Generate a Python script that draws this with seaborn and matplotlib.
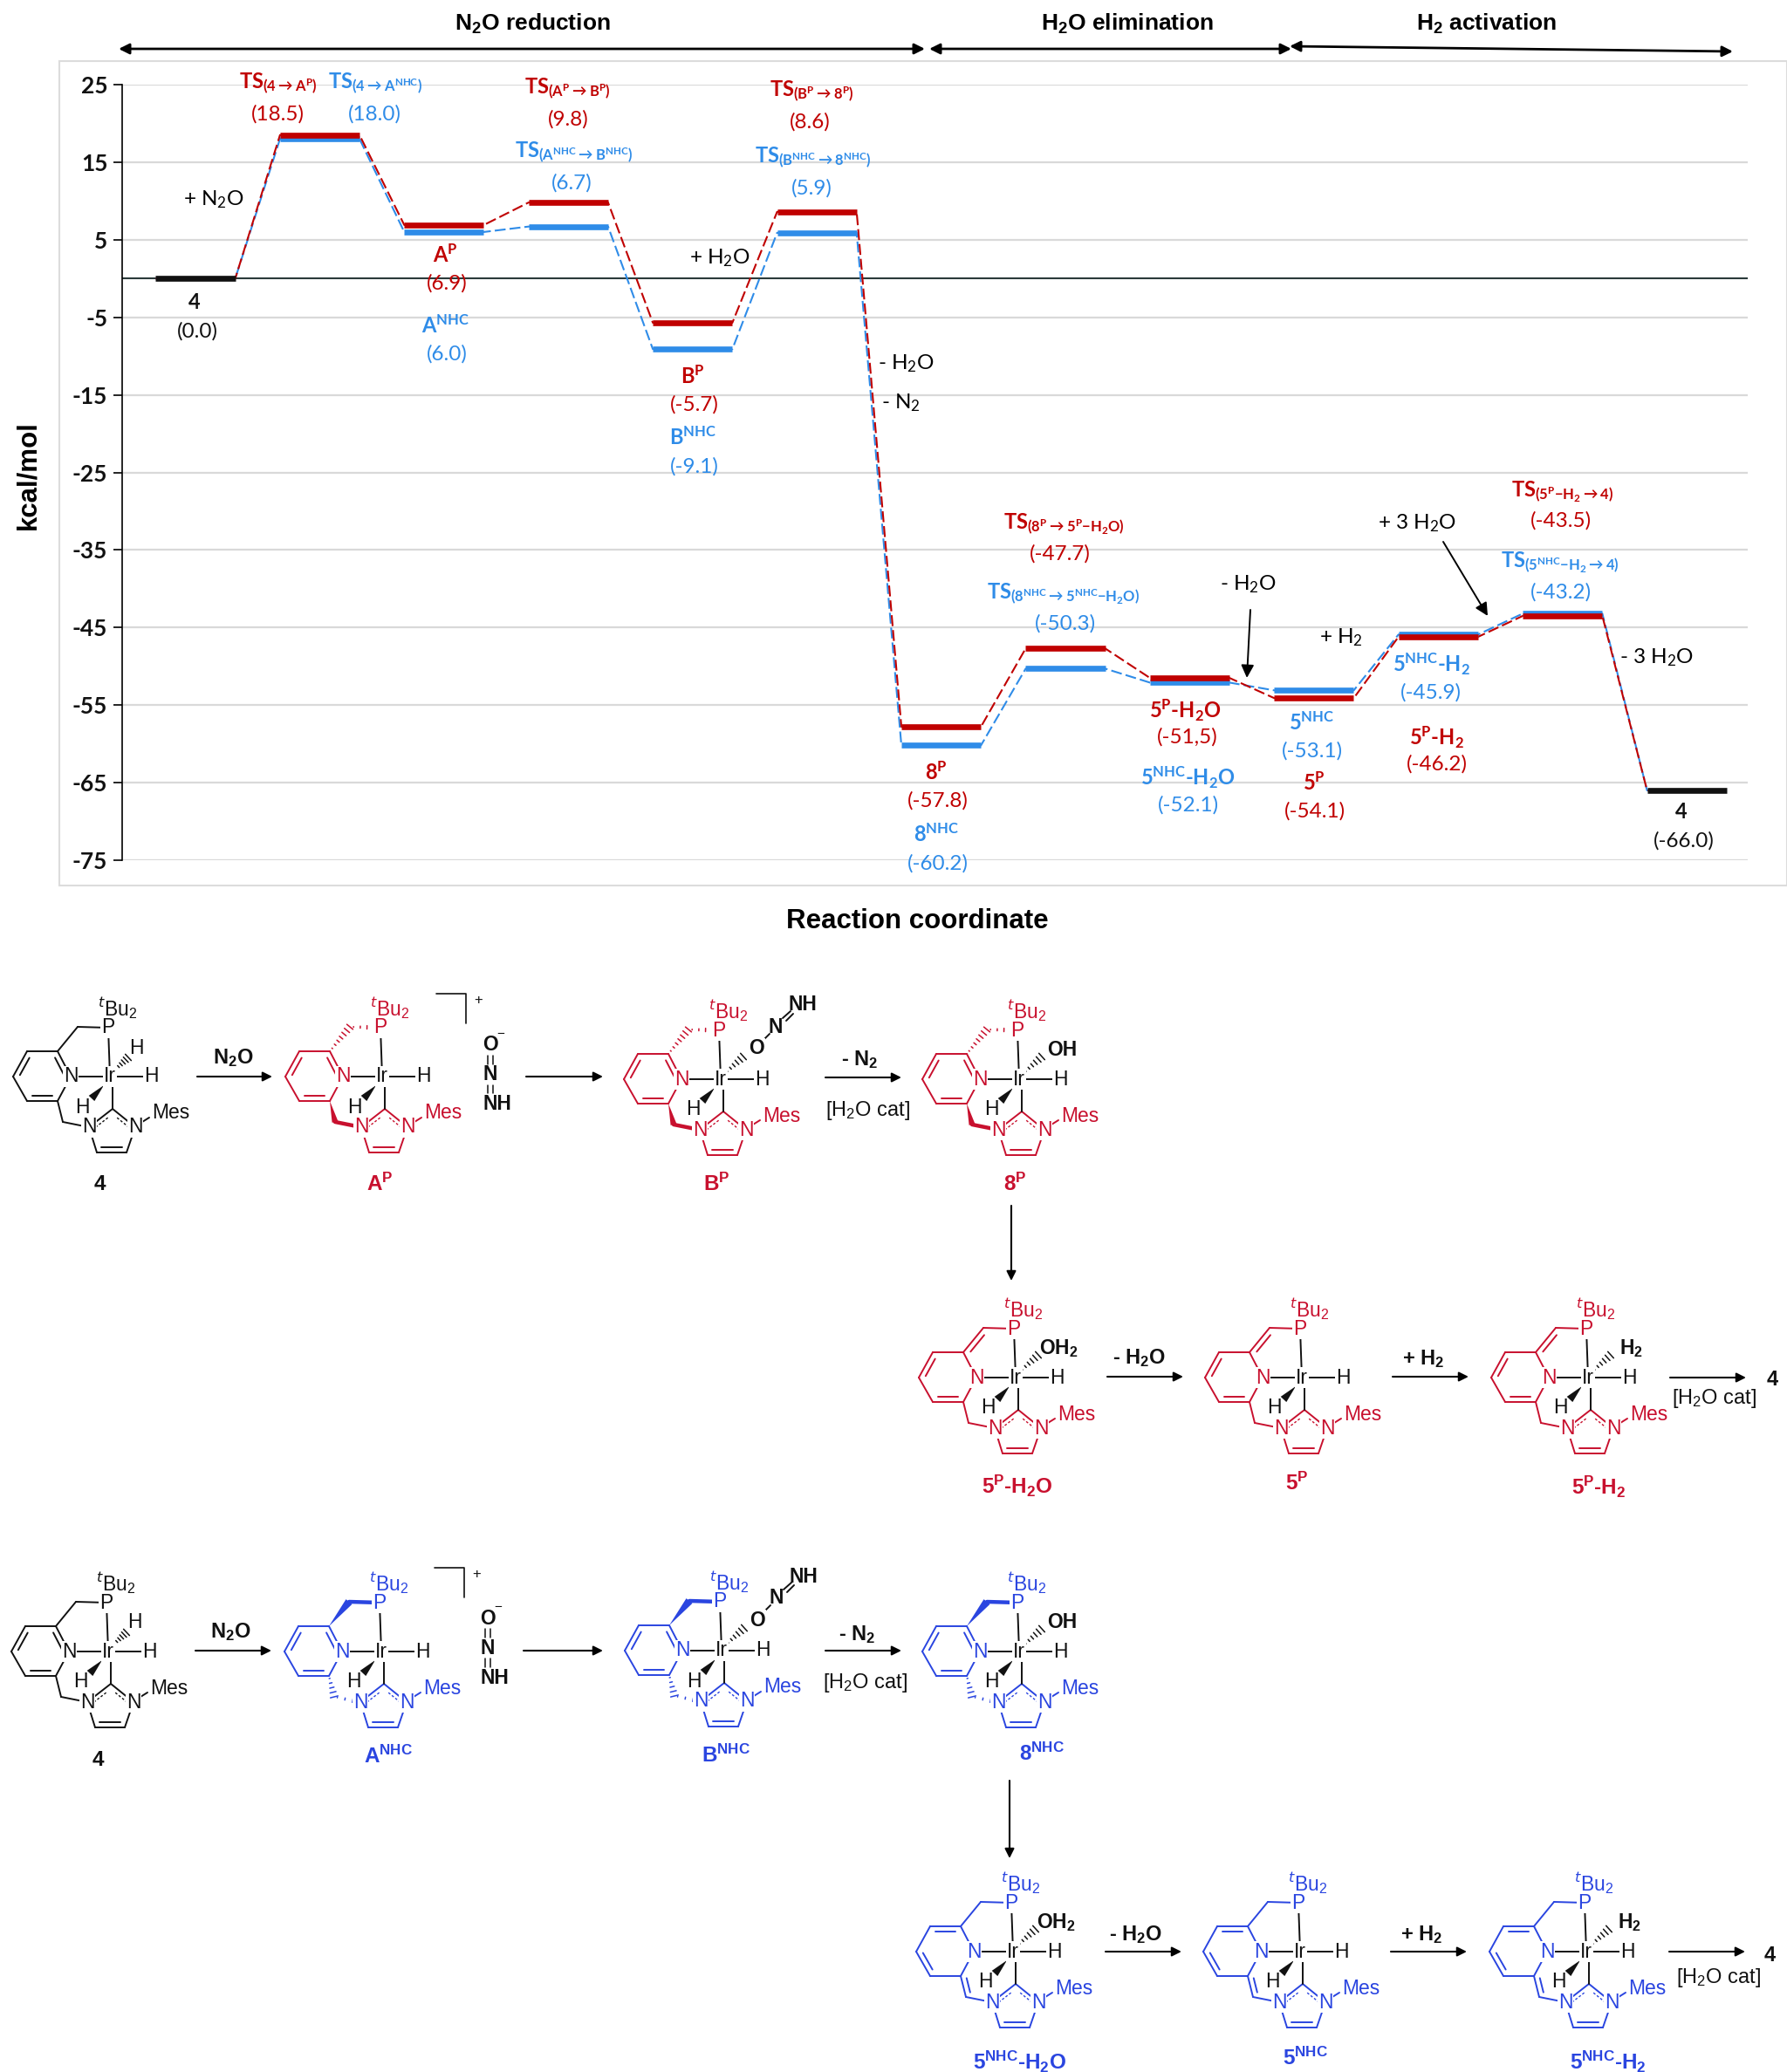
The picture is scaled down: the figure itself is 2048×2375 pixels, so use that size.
import numpy as np
import pandas as pd
import matplotlib
matplotlib.use("Agg")
import matplotlib.pyplot as plt
from matplotlib.patches import Polygon, Rectangle
import seaborn as sns

# ---------------- data ----------------
p_values = [0.0, 18.5, 6.9, 9.8, -5.7, 8.6, -57.8, -47.7, -51.5, -54.1, -46.2, -43.5, -66.0]
nhc_values = [0.0, 18.0, 6.0, 6.7, -9.1, 5.9, -60.2, -50.3, -52.1, -53.1, -45.9, -43.2, -66.0]
y_ticks = [25, 15, 5, -5, -15, -25, -35, -45, -55, -65, -75]

RED = "#c00000"
RED2 = "#c8102e"
BLUE = "#2f8ce8"
BLUE2 = "#2a45e0"
BLACK = "#111111"
W, H = 2048, 2375

sns.set_theme(style="ticks")
plt.rcParams["font.family"] = ["Lato", "DejaVu Sans"]
plt.rcParams["mathtext.default"] = "regular"
plt.rcParams["mathtext.fontset"] = "dejavusans"

fig = plt.figure(figsize=(W / 100, H / 100), dpi=100, facecolor="white")
ax = fig.add_axes([140 / W, 1 - 986 / H, (2003 - 140) / W, (986 - 97) / H], facecolor="none")
ov = fig.add_axes([0, 0, 1, 1], facecolor="none")
ov.set_xlim(0, W)
ov.set_ylim(H, 0)
ov.axis("off")

# ---------------- energy profile ----------------
half = 0.32
path_rows, level_rows = [], []
for name, vals in (("NHC", nhc_values), ("P", p_values)):
    for i, v in enumerate(vals):
        for dx in (-half, half):
            path_rows.append((name, i, i + dx, v))
            if 0 < i < len(vals) - 1:
                level_rows.append((name, i, i + dx, v))
for i in (0, len(p_values) - 1):
    for dx in (-half, half):
        level_rows.append(("both", i, i + dx, p_values[i]))
path_df = pd.DataFrame(path_rows, columns=["series", "state", "x", "y"])
level_df = pd.DataFrame(level_rows, columns=["series", "state", "x", "y"])
pal = {"NHC": BLUE, "P": RED, "both": BLACK}

ax.set_xlim(-0.59, 12.49)
ax.set_ylim(-75, 25)
ax.set_yticks(y_ticks)
ax.set_xticks([])
ax.yaxis.grid(True, color="#d9d9d9", lw=1.6)
ax.set_axisbelow(True)
ax.axhline(0, color="#2b3a3a", lw=1.5, zorder=1.5)
for name, offset in (("NHC", 4.0), ("P", 0.0)):
    sns.lineplot(data=path_df[path_df["series"] == name], x="x", y="y", color=pal[name],
                 estimator=None, sort=False, lw=1.5, linestyle=(offset, (6, 2.2)),
                 legend=False, ax=ax, zorder=2)
sns.lineplot(data=level_df, x="x", y="y", hue="series", hue_order=["NHC", "P", "both"], palette=pal,
             units="state", estimator=None, sort=False, lw=4.8, solid_capstyle="butt",
             legend=False, ax=ax, zorder=3)
ax.set_xlabel("")
ax.set_ylabel("")
for s in ("top", "right", "bottom"):
    ax.spines[s].set_visible(False)
ax.spines["left"].set_color("black")
ax.spines["left"].set_linewidth(1.2)
ax.tick_params(axis="y", length=7, width=1.2, color="black", pad=5)
ax.set_yticklabels([str(v) for v in y_ticks], fontsize=19, fontweight="bold", color="#111111")

ov.add_patch(Rectangle((68, 70), W - 68, 945, fc="none", ec="#dcdcdc", lw=1.5))


def T(x, y, s, color="black", size=17.5, weight="normal", family=None, **kw):
    ov.text(x, y, s, color=color, fontsize=size, fontweight=weight, ha=kw.pop("ha", "center"),
            va=kw.pop("va", "center"), family=family or ["Lato", "DejaVu Sans"], **kw)


def arrow(x0, y0, x1, y1, style="-|>", lw=1.5, ms=16, color="black"):
    ov.annotate("", xy=(x1, y1), xytext=(x0, y0),
                arrowprops=dict(arrowstyle=style, lw=lw, color=color, mutation_scale=ms,
                                shrinkA=0, shrinkB=0))


ARIAL = ["Liberation Sans", "DejaVu Sans"]
T(610, 27, "N$_2$O reduction", size=19, weight="bold", family=ARIAL)
T(1292, 27, "H$_2$O elimination", size=19, weight="bold", family=ARIAL)
T(1704, 27, "H$_2$ activation", size=19, weight="bold", family=ARIAL)
arrow(136, 56, 1060, 56, "<|-|>", lw=2, ms=18)
arrow(1065, 56, 1480, 56, "<|-|>", lw=2, ms=18)
arrow(1478, 53, 1986, 59, "<|-|>", lw=2, ms=18)
T(32, 545, "kcal/mol", size=22.5, weight="bold", rotation=90, family=ARIAL)
T(1051, 1056, "Reaction coordinate", size=22.5, weight="bold", family=ARIAL)


def fmt(v):
    return f"({v:.1f})"


def pair(xn, yn, name, xv, yv, val, color, weight="bold", size=17):
    T(xn, yn, name, color=color, weight=weight, size=size)
    T(xv, yv, val, color=color)


A = r"\rightarrow "
D = "{-}"
pair(319, 96, rf"TS$_{{(4{A}A^{{P}})}}$", 318, 131, fmt(p_values[1]), RED)
pair(430, 96, rf"TS$_{{(4{A}A^{{NHC}})}}$", 429, 131, fmt(nhc_values[1]), BLUE)
pair(650, 102, rf"TS$_{{(A^{{P}}{A}B^{{P}})}}$", 651, 137, fmt(p_values[3]), RED)
pair(658, 175, rf"TS$_{{(A^{{NHC}}{A}B^{{NHC}})}}$", 655, 210, fmt(nhc_values[3]), BLUE)
pair(930, 105, rf"TS$_{{(B^{{P}}{A}8^{{P}})}}$", 928, 140, fmt(p_values[5]), RED)
pair(932, 181, rf"TS$_{{(B^{{NHC}}{A}8^{{NHC}})}}$", 930, 216, fmt(nhc_values[5]), BLUE)
pair(223, 347, "4", 226, 380, fmt(p_values[0]), BLACK)
pair(510, 292, "A$^{P}$", 512, 325, fmt(p_values[2]), RED)
pair(510, 373, "A$^{NHC}$", 512, 406, fmt(nhc_values[2]), BLUE)
pair(794, 431, "B$^{P}$", 796, 464, fmt(p_values[4]), RED)
pair(794, 501, "B$^{NHC}$", 796, 535, fmt(nhc_values[4]), BLUE)
pair(1073, 885, "8$^{P}$", 1075, 918, fmt(p_values[6]), RED)
pair(1073, 956, "8$^{NHC}$", 1075, 990, fmt(nhc_values[6]), BLUE)
pair(1219, 601, rf"TS$_{{(8^{{P}}{A}5^{{P}}{D}H_2O)}}$", 1215, 635, fmt(p_values[7]), RED)
pair(1219, 681, rf"TS$_{{(8^{{NHC}}{A}5^{{NHC}}{D}H_2O)}}$", 1221, 715, fmt(nhc_values[7]), BLUE)
pair(1358, 814, "5$^{P}$-H$_2$O", 1361, 845, fmt(p_values[8]).replace(".", ","), RED)
pair(1361, 891, "5$^{NHC}$-H$_2$O", 1362, 923, fmt(nhc_values[8]), BLUE)
pair(1503, 828, "5$^{NHC}$", 1504, 861, fmt(nhc_values[9]), BLUE)
pair(1506, 897, "5$^{P}$", 1507, 930, fmt(p_values[9]), RED)
pair(1640, 761, "5$^{NHC}$-H$_2$", 1640, 794, fmt(nhc_values[10]), BLUE)
pair(1646, 845, "5$^{P}$-H$_2$", 1647, 876, fmt(p_values[10]), RED)
pair(1791, 564, rf"TS$_{{(5^{{P}}{D}H_2{A}4)}}$", 1789, 597, fmt(p_values[11]), RED)
pair(1788, 645, rf"TS$_{{(5^{{NHC}}{D}H_2{A}4)}}$", 1789, 679, fmt(nhc_values[11]), BLUE)
pair(1927, 931, "4", 1930, 964, fmt(p_values[12]), BLACK)
T(245, 229, "+ N$_2$O")
T(825, 296, "+ H$_2$O")
T(1038, 417, "- H$_2$O")
T(1032, 462, "- N$_2$")
T(1624, 600, "+ 3 H$_2$O")
T(1430, 670, "- H$_2$O")
T(1537, 731, "+ H$_2$")
T(1898, 754, "- 3 H$_2$O")
arrow(1433, 699, 1429, 777, ms=22, lw=1.4)
arrow(1654, 621, 1705, 706, ms=22, lw=1.4)

# ---------------- molecules ----------------
TPL = dict(P=(-2, -56), N=(-45, 0), C2=(-60, -29), C3=(-95, -29), C4=(-111, 0), C5=(-95, 28),
           C6=(-60, 28), CU=(-37, -57), CL=(-54, 52), CC=(3, 37), NL=(-24, 58), NR=(29, 58),
           C7=(-15, 87), C8=(19, 87))
LW = 1.4


def mol(ox, oy, color, upper="line", lower="line", ligand=None, hno=False, third_h=False):
    pos = {k: np.array([ox + v[0], oy + v[1]], float) for k, v in TPL.items()}
    ir = np.array([ox, oy], float)

    def line(a, b, c=color, lw=LW, ls="-"):
        ov.plot([a[0], b[0]], [a[1], b[1]], color=c, lw=lw, ls=ls, solid_capstyle="round", zorder=3)

    def dbl(a, b, center, c=color):
        a, b = np.array(a), np.array(b)
        d = b - a
        n = np.array([-d[1], d[0]]) / np.hypot(*d)
        if np.dot(n, np.array(center) - a) < 0:
            n = -n
        line(a + 0.16 * d + 6 * n, a + 0.84 * d + 6 * n, c)

    def wedge(a, b, c=color, w=4.5):
        a, b = np.array(a), np.array(b)
        d = b - a
        n = np.array([-d[1], d[0]]) / np.hypot(*d)
        ov.add_patch(Polygon([a, b + w * n, b - w * n], fc=c, ec="none", zorder=3))

    def hash_(a, b, c=color, w=4.5, k=6):
        a, b = np.array(a), np.array(b)
        d = b - a
        n = np.array([-d[1], d[0]]) / np.hypot(*d)
        for f in np.linspace(0.12, 1, k):
            m = a + f * d
            line(m - f * w * n, m + f * w * n, c, lw=1.1)

    center = pos["N"] * 0.5 + pos["C4"] * 0.5
    ring = ["C2", "C3", "C4", "C5", "C6", "N", "C2"]
    for a, b in zip(ring[:-1], ring[1:]):
        line(pos[a], pos[b])
    if upper == "double":
        pairs = [("C3", "C4"), ("C5", "C6")]
    elif lower == "double":
        pairs = [("C2", "C3"), ("C4", "C5")]
    else:
        pairs = [("C2", "N"), ("C3", "C4"), ("C5", "C6")]
    for a, b in pairs:
        dbl(pos[a], pos[b], center)

    # phosphine arm
    if upper == "hash":
        hash_(pos["C2"], pos["CU"], k=7)
        hash_(pos["CU"], pos["P"], w=3.5, k=5)
    elif upper == "wedge":
        wedge(pos["C2"], pos["CU"])
        line(pos["CU"], pos["P"], lw=3.2)
    else:
        line(pos["C2"], pos["CU"])
        line(pos["CU"], pos["P"])
        if upper == "double":
            dbl(pos["C2"], pos["CU"], center + np.array([90, -30]))
    # NHC arm
    if lower == "hash":
        hash_(pos["C6"], pos["CL"], k=5)
        hash_(pos["CL"], pos["NL"], w=3, k=4)
    elif lower == "wedge":
        wedge(pos["C6"], pos["CL"], w=3.5)
        line(pos["CL"], pos["NL"], lw=3.2)
    else:
        line(pos["C6"], pos["CL"])
        line(pos["CL"], pos["NL"])
        if lower == "double":
            dbl(pos["C6"], pos["CL"], center + np.array([90, 60]))

    # imidazolylidene
    for a, b in (("CC", "NL"), ("CC", "NR"), ("NL", "C7"), ("C7", "C8"), ("C8", "NR")):
        line(pos[a], pos[b])
    dbl(pos["C7"], pos["C8"], pos["CC"])
    for a, b in (("CC", "NL"), ("CC", "NR")):
        d = pos[b] - pos[a]
        n = np.array([0, 6.0])
        line(pos[a] + 0.2 * d + n, pos[a] + 0.85 * d + n, lw=1.0, ls=(0, (2, 1.6)))
    line(pos["NR"] + np.array([8, -6]), pos["NR"] + np.array([16, -11]))

    # metal bonds
    line(pos["P"], ir, BLACK)
    line(pos["N"], ir, BLACK)
    line(ir, (ox + 46, oy), BLACK)
    line((ox + 3, oy + 8), pos["CC"], BLACK)
    wedge((ox - 7, oy + 10), (ox - 21, oy + 25), BLACK, w=4.5)
    if ligand or hno:
        hash_((ox + 5, oy - 7), (ox + 26, oy - 26), BLACK, w=5, k=6)
    elif third_h:
        hash_((ox + 5, oy - 7), (ox + 21, oy - 22), BLACK, w=5, k=6)

    atom = dict(size=16.5, family=ARIAL, zorder=5)
    box = dict(fc="white", ec="none", pad=0.6)
    T(ox, oy, "Ir", BLACK, bbox=box, **atom)
    T(ox + 47, oy, "H", BLACK, bbox=box, **atom)
    T(ox - 32, oy + 35, "H", BLACK, **atom)
    T(*pos["P"], "P", color, bbox=box, **atom)
    T(*pos["N"], "N", color, bbox=box, **atom)
    T(*pos["NL"], "N", color, bbox=box, **atom)
    T(*pos["NR"], "N", color, bbox=box, **atom)
    T(ox + 70, oy + 42, "Mes", color, **atom)
    T(ox + 9, oy - 78, "$^{\\mathit{t}}$Bu$_2$", color, **atom)
    bold = dict(size=16.5, family=ARIAL, weight="bold", zorder=5)
    if hno:
        T(ox + 41, oy - 35, "O", BLACK, bbox=box, **bold)
        line((ox + 48, oy - 44), (ox + 56, oy - 52), BLACK)
        T(ox + 63, oy - 60, "N", BLACK, **bold)
        line((ox + 71, oy - 70), (ox + 80, oy - 78), BLACK)
        line((ox + 75, oy - 67), (ox + 83, oy - 75), BLACK)
        T(ox + 94, oy - 85, "NH", BLACK, **bold)
    elif ligand:
        T(ox + 49, oy - 33, ligand, BLACK, **bold)
    elif third_h:
        T(ox + 30, oy - 33, "H", BLACK, **atom)


def n2o(x, y0, y1, y2):
    bold = dict(size=16.5, family=ARIAL, weight="bold", ha="center")
    T(x, y0, "O", BLACK, **bold)
    T(x + 12, y0 - 15, "$-$", BLACK, size=11, family=ARIAL)
    T(x, y1, "N", BLACK, **bold)
    T(x + 8, y2, "NH", BLACK, **bold)
    for dx in (-3, 3):
        for a, b in ((y0 + 12, y1 - 12), (y1 + 12, y2 - 12)):
            ov.plot([x + dx, x + dx], [a, b], color=BLACK, lw=1.1)


def bracket(x0, x1, y0, y1, plus_x, plus_y):
    ov.plot([x0, x1, x1], [y0, y0, y1], color=BLACK, lw=1.2)
    T(plus_x, plus_y, "+", BLACK, size=12, family=ARIAL)


def lab(x, y, s, color):
    T(x, y, s, color, size=17.5, weight="bold", family=ARIAL)


def rtext(x, y, s, bold=True):
    T(x, y, s, BLACK, size=17, weight="bold" if bold else "normal", family=ARIAL)


# row 1
mol(126, 1234, BLACK, third_h=True)
mol(438, 1234, RED2, "hash", "wedge")
mol(826, 1237, RED2, "hash", "wedge", hno=True)
mol(1168, 1237, RED2, "hash", "wedge", ligand="OH")
bracket(500, 534, 1139, 1173, 548, 1146)
n2o(562, 1198, 1232, 1265)
lab(114, 1357, "4", BLACK)
lab(435, 1357, "A$^{P}$", RED2)
lab(821, 1357, "B$^{P}$", RED2)
lab(1163, 1357, "8$^{P}$", RED2)
arrow(226, 1234, 312, 1234)
rtext(267, 1213, "N$_2$O")
arrow(603, 1234, 691, 1234)
arrow(946, 1235, 1033, 1235)
rtext(985, 1215, "- N$_2$")
rtext(995, 1273, "[H$_2$O cat]", bold=False)
arrow(1159, 1382, 1159, 1468)

# row 2
mol(1164, 1579, RED2, "double", "line", ligand="OH$_2$")
mol(1492, 1579, RED2, "double", "line")
mol(1820, 1579, RED2, "double", "line", ligand="H$_2$")
lab(1166, 1703, "5$^{P}$-H$_2$O", RED2)
lab(1486, 1700, "5$^{P}$", RED2)
lab(1832, 1704, "5$^{P}$-H$_2$", RED2)
arrow(1269, 1578, 1356, 1578)
rtext(1305, 1557, "- H$_2$O")
arrow(1596, 1578, 1683, 1578)
rtext(1631, 1558, "+ H$_2$")
arrow(1914, 1579, 2001, 1579)
rtext(1965, 1603, "[H$_2$O cat]", bold=False)
rtext(2031, 1582, "4")

# row 3
mol(124, 1893, BLACK, third_h=True)
mol(437, 1893, BLUE2, "wedge", "hash")
mol(827, 1892, BLUE2, "wedge", "hash", hno=True)
mol(1168, 1893, BLUE2, "wedge", "hash", ligand="OH")
bracket(498, 532, 1797, 1831, 546, 1805)
n2o(559, 1855, 1889, 1923)
lab(112, 2017, "4", BLACK)
lab(445, 2013, "A$^{NHC}$", BLUE2)
lab(832, 2012, "B$^{NHC}$", BLUE2)
lab(1194, 2010, "8$^{NHC}$", BLUE2)
arrow(224, 1892, 311, 1892)
rtext(264, 1871, "N$_2$O")
arrow(600, 1892, 691, 1892)
arrow(946, 1892, 1033, 1892)
rtext(982, 1874, "- N$_2$")
rtext(992, 1929, "[H$_2$O cat]", bold=False)
arrow(1157, 2041, 1157, 2130)

# row 4
mol(1161, 2237, BLUE2, "line", "double", ligand="OH$_2$")
mol(1490, 2237, BLUE2, "line", "double")
mol(1818, 2237, BLUE2, "line", "double", ligand="H$_2$")
lab(1168, 2363, "5$^{NHC}$-H$_2$O", BLUE2)
lab(1496, 2359, "5$^{NHC}$", BLUE2)
lab(1843, 2363, "5$^{NHC}$-H$_2$", BLUE2)
arrow(1267, 2237, 1354, 2237)
rtext(1301, 2218, "- H$_2$O")
arrow(1594, 2237, 1681, 2237)
rtext(1629, 2218, "+ H$_2$")
arrow(1913, 2237, 2000, 2237)
rtext(1970, 2267, "[H$_2$O cat]", bold=False)
rtext(2028, 2242, "4")

fig.savefig("out.png", dpi=100, facecolor="white")
